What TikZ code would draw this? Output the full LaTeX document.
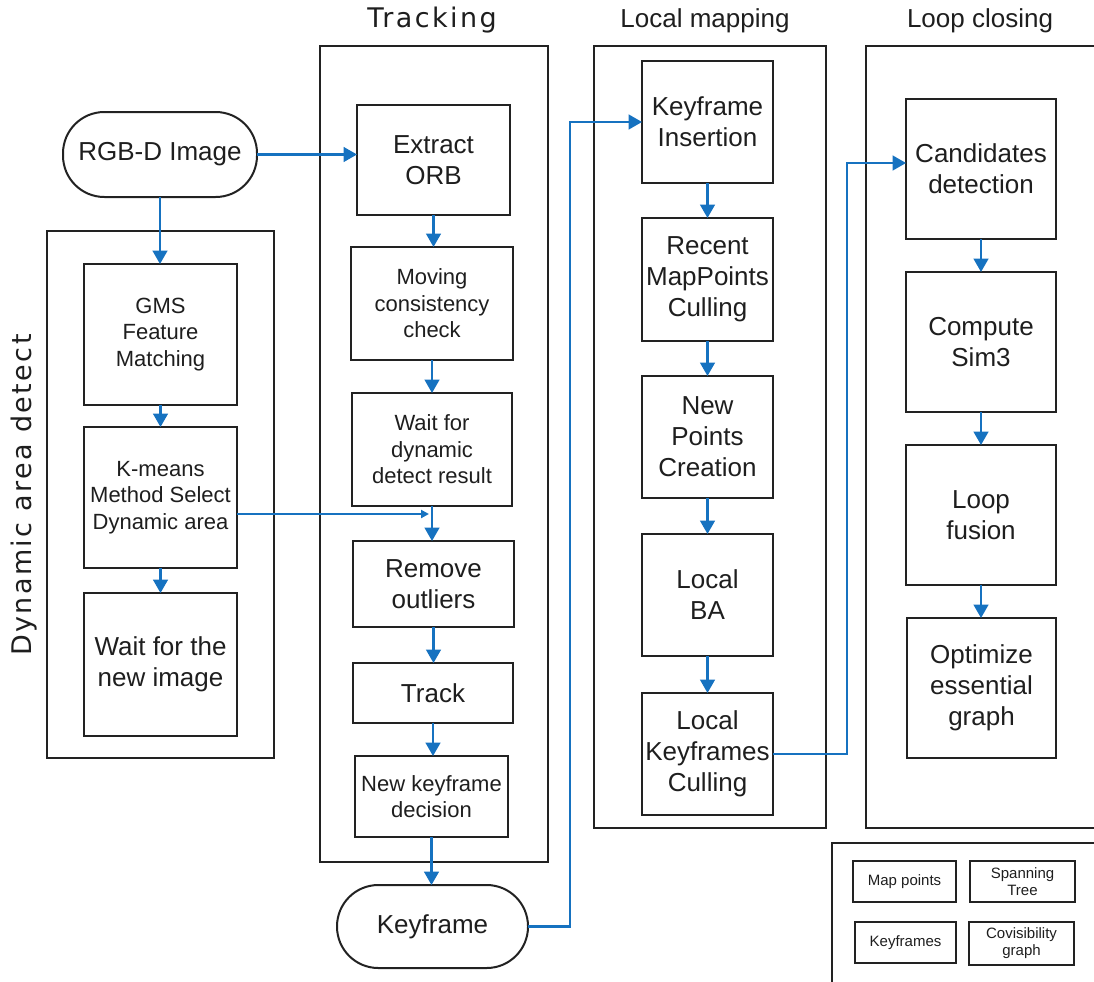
\documentclass[tikz,border=0pt]{standalone}
\usepackage{fontspec}
\setmainfont{Liberation Sans}
\newfontfamily\wideFont[LetterSpace=9]{DejaVu Sans}
\usetikzlibrary{arrows.meta,calc}
\definecolor{flowblue}{RGB}{22,114,192}
\definecolor{edgec}{RGB}{34,34,34}
\definecolor{txtc}{RGB}{30,30,30}
\begin{document}
\begin{tikzpicture}[x=0.75pt,y=-0.75pt,
  sz/.style 2 args={minimum width={#1*0.75pt},minimum height={#2*0.75pt}},
  box/.style={draw=edgec,line width=1.5pt,inner sep=0pt,outer sep=0pt,align=center,text=txtc},
  pill/.style={box,rounded corners=31pt},
  frame/.style={draw=edgec,line width=1.6pt,inner sep=0pt,outer sep=0pt},
  flow/.style={draw=flowblue,line width=1.6pt,-{Triangle[width=11pt,length=10pt]}},
  smallflow/.style={draw=flowblue,line width=1.6pt,-{Triangle[width=6pt,length=6pt]}},
  fbig/.style={font=\fontsize{19.5}{23.25}\selectfont},
  fmid/.style={font=\fontsize{16.5}{19.9}\selectfont},
  fsmall/.style={font=\fontsize{11.25}{12.75}\selectfont},
  ftitle/.style={font=\fontsize{19.5}{23}\selectfont,text=txtc},
  fwide/.style={font=\wideFont\fontsize{20.25}{24}\selectfont,text=txtc},
  leg/.style={box,fsmall,line width=1pt}
]
\useasboundingbox (0,0) rectangle (1094,981);

% titles
\node[fwide] (trkT) at (432,20) {Tracking};
\node[ftitle] (lmT) at (705,21) {Local mapping};
\node[ftitle] (lcT) at (980,21) {Loop closing};
\node[fwide,rotate=90] (dynT) at (24,495) {Dynamic area detect};

% outer frames
\node[frame,sz={228}{816}] (trk) at (434,454) {};
\node[frame,sz={232}{782}] (lm) at (710,437) {};
\node[frame,sz={244}{782}] (lc) at (988,437) {};
\node[frame,sz={227}{527}] (dyn) at (160.5,494.5) {};
\coordinate (legA) at (832,990);
\coordinate (legB) at (832,843);
\coordinate (legC) at (1110,843);
\draw[frame] (legA) -- (legB) -- (legC);

% left column
\node[pill,fbig,sz={194}{85}] (rgbd) at (160,154.5) {RGB-D Image};
\node[box,fmid,sz={153}{141}] (gms) at (160.5,334.5) {GMS\\Feature\\Matching};
\node[box,fmid,sz={153}{141}] (km) at (160.5,497.5) {K-means\\Method Select\\Dynamic area};
\node[box,fbig,sz={153}{143}] (wni) at (160.5,664.5) {Wait for the\\new image};

% tracking
\node[box,fbig,sz={153}{110}] (orb) at (433.5,160) {Extract\\ORB};
\node[box,fmid,sz={162}{113}] (mov) at (432,303.5) {Moving\\consistency\\check};
\node[box,fmid,sz={160}{113}] (wdd) at (432,449.5) {Wait for\\dynamic\\detect result};
\node[box,fbig,sz={161}{86}] (rem) at (433.5,584) {Remove\\outliers};
\node[box,fbig,sz={160}{60}] (trkb) at (433,693) {Track};
\node[box,fmid,sz={153}{81}] (nkd) at (431.5,796.5) {New keyframe\\decision};
\node[pill,fbig,sz={191}{83}] (kf) at (432.5,926.5) {Keyframe};

% local mapping
\node[box,fbig,sz={131}{122}] (kfi) at (707.5,122) {Keyframe\\Insertion};
\node[box,fbig,sz={131}{123}] (rmc) at (707.5,279.5) {Recent\\MapPoints\\Culling};
\node[box,fbig,sz={131}{122}] (npc) at (707.5,437) {New\\Points\\Creation};
\node[box,fbig,sz={131}{122}] (lba) at (707.5,595) {Local\\BA};
\node[box,fbig,sz={131}{122}] (lkc) at (707.5,754) {Local\\Keyframes\\Culling};

% loop closing
\node[box,fbig,sz={150}{140}] (cand) at (981,169) {Candidates\\detection};
\node[box,fbig,sz={150}{140}] (sim) at (981,342) {Compute\\Sim3};
\node[box,fbig,sz={150}{140}] (fus) at (981,515) {Loop\\fusion};
\node[box,fbig,sz={149}{140}] (opt) at (981.5,688) {Optimize\\essential\\graph};

% legend
\node[leg,sz={103}{41}] (lmp) at (904.5,881.5) {Map points};
\node[leg,sz={105}{41}] (lst) at (1022.5,881.5) {Spanning\\Tree};
\node[leg,sz={101}{41}] (lkf) at (905.5,942.5) {Keyframes};
\node[leg,sz={105}{43}] (lcg) at (1021.5,943.5) {Covisibility\\graph};

% connectors
\draw[flow] (rgbd.east) -- (rgbd.east -| orb.west);
\draw[flow] (rgbd.south) -- (rgbd.south |- gms.north);
\draw[flow] (gms.south) -- (km.north);
\draw[flow] (km.south) -- (wni.north);

\draw[flow] (orb.south) -- (orb.south |- mov.north);
\draw[flow] (mov.south) -- (mov.south |- wdd.north);
\draw[flow] (wdd.south) -- (wdd.south |- rem.north);
\draw[flow] (rem.south) -- (rem.south |- trkb.north);
\draw[flow] (trkb.south) -- (trkb.south |- nkd.north);
\draw[flow] (nkd.south) -- (nkd.south |- kf.north);

\coordinate (kmEnd) at (429,514);
\draw[smallflow] (km.east |- kmEnd) -- (kmEnd);

\coordinate (j1) at (570,0);
\draw[flow] (kf.east) -- (kf.east -| j1) -- (j1 |- kfi.west) -- (kfi.west);

\draw[flow] (kfi.south) -- (rmc.north);
\draw[flow] (rmc.south) -- (npc.north);
\draw[flow] (npc.south) -- (lba.north);
\draw[flow] (lba.south) -- (lkc.north);

\coordinate (j2) at (847,163);
\draw[flow] (lkc.east) -- (lkc.east -| j2) -- (j2) -- (j2 -| cand.west);

\draw[flow] (cand.south) -- (sim.north);
\draw[flow] (sim.south) -- (fus.north);
\draw[flow] (fus.south) -- (fus.south |- opt.north);
\end{tikzpicture}
\end{document}
